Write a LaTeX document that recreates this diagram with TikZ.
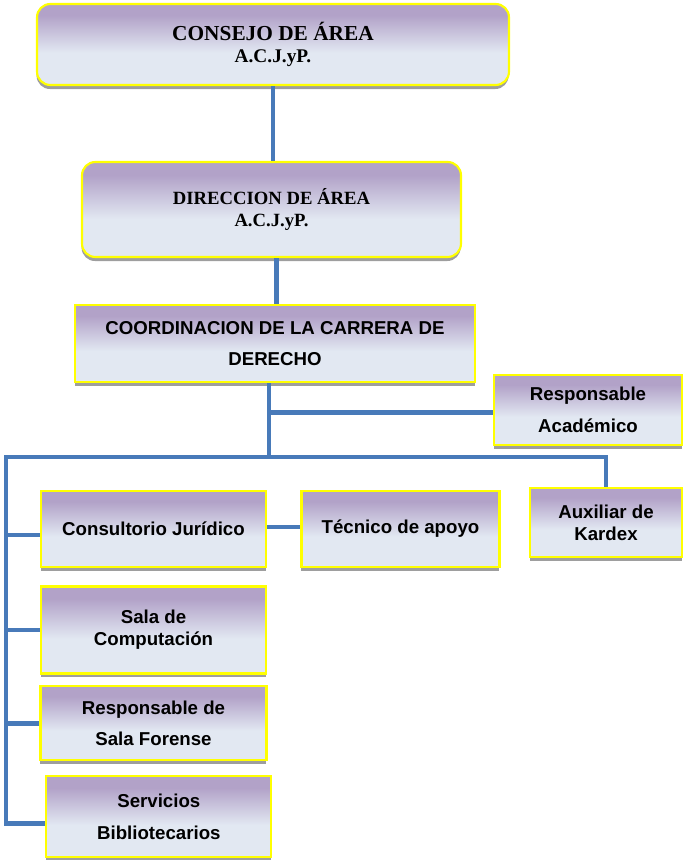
\documentclass[tikz,border=0pt]{standalone}
\usepackage{fontspec}
\setmainfont{Liberation Sans}
\newfontfamily\romana{Liberation Serif}
\usetikzlibrary{calc,shadows,positioning}
\definecolor{lila}{RGB}{178,162,200}
\definecolor{celeste}{RGB}{226,232,242}
\definecolor{borde}{RGB}{255,255,0}
\definecolor{linea}{RGB}{72,122,185}
\definecolor{sombra}{RGB}{158,158,158}
\pgfdeclareverticalshading{cajashade}{100bp}{color(0bp)=(celeste); color(45bp)=(celeste); color(68bp)=(lila); color(100bp)=(lila)}
\tikzset{
    caja/.style={draw=borde,line width=1.6pt,shade,shading=cajashade,inner sep=0pt,align=center,
        drop shadow={shadow xshift=-0.3pt,shadow yshift=-3pt,fill=sombra,opacity=1},
        font=\bfseries\fontsize{14}{23.8}\selectfont},
    cajajunta/.style={caja,font=\bfseries\fontsize{14}{16.5}\selectfont},
    cajaredonda/.style={caja,rounded corners=10pt,font=\romana\bfseries\fontsize{14}{17}\selectfont},
    conector/.style={draw=linea,line width=3.6pt},
}

\begin{document}
\begin{tikzpicture}[x=0.75pt,y=-0.75pt]
    \useasboundingbox (0,0) rectangle (684,860);
    % cajas
    \node [cajaredonda,minimum width=354pt,minimum height=60.75pt] (consejo) at (273,44.5) {{\fontsize{16}{17}\selectfont CONSEJO DE ÁREA}\\{\fontsize{14.5}{17}\selectfont A.C.J.yP.}};
    \node [cajaredonda,minimum width=284.25pt,minimum height=71.25pt] (direccion) at (271.5,209.5) {DIRECCION DE ÁREA\\A.C.J.yP.};
    \node [caja,minimum width=300pt,minimum height=57.75pt] (coordinacion) at (275,343.5) {COORDINACION DE LA CARRERA DE\\DERECHO};
    \node [caja,minimum width=141pt,minimum height=52.5pt] (academico) at (588,410) {Responsable\\Académico};
    \node [cajajunta,minimum width=114pt,minimum height=51.75pt] (kardex) at (606,522.5) {Auxiliar de\\Kardex};
    \node [caja,minimum width=168.75pt,minimum height=57pt] (consultorio) at (153.5,529) {Consultorio Jurídico};
    \node [caja,right=25pt of consultorio,minimum width=148.5pt,minimum height=57pt] (tecnico) {Técnico de apoyo};
    \node [cajajunta,below=13pt of consultorio,minimum width=168.75pt,minimum height=65.25pt] (computacion) {Sala de\\Computación};
    \node [caja,below=8pt of computacion,minimum width=169.5pt,minimum height=55.5pt] (forense) {Responsable de\\Sala Forense};
    \node [caja,below=10.5pt of forense,xshift=4pt,minimum width=168.75pt,minimum height=60.75pt] (biblioteca) {Servicios\\Bibliotecarios};
    % lineas
    \coordinate (nudo) at (269,457);
    \coordinate (izq) at (6,457);
    \path [conector] (consejo.south) -- (consejo.south |- direccion.north);
    \path [conector] ([xshift=4pt]direccion.south) -- ([xshift=4pt]direccion.south |- coordinacion.north);
    \path [conector] (coordinacion.south -| nudo) -- (nudo);
    \path [conector] ([yshift=-2pt]academico.west -| nudo) -- ([yshift=-2pt]academico.west);
    \path [conector] (kardex.north) |- (izq) |- ([yshift=-5pt]biblioteca.west);
    \path [conector] ([yshift=-4.5pt]consultorio.west -| izq) -- ([yshift=-4.5pt]consultorio.west);
    \path [conector] (computacion.west -| izq) -- (computacion.west);
    \path [conector] (forense.west -| izq) -- (forense.west);
    \path [conector] ([yshift=1.5pt]consultorio.east) -- ([yshift=1.5pt]tecnico.west);
\end{tikzpicture}
\end{document}
